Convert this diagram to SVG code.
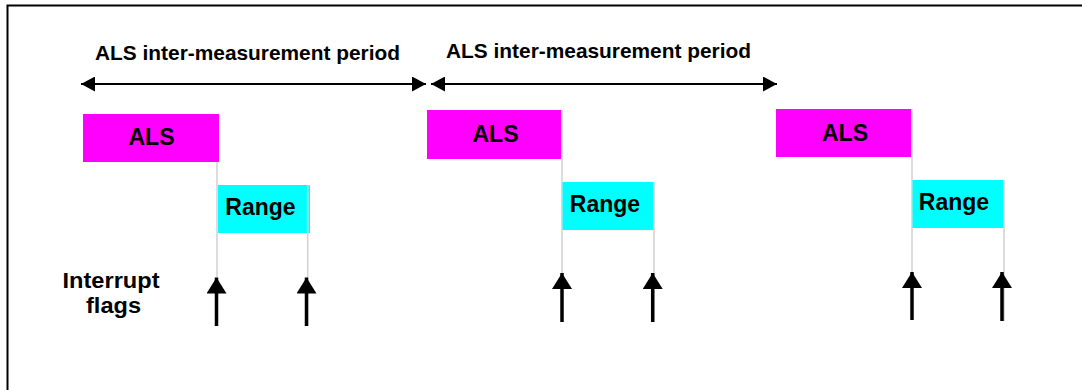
<svg xmlns="http://www.w3.org/2000/svg" width="1082" height="390" viewBox="0 0 1082 390">
<style>
text{font-family:"Liberation Sans",Arial,sans-serif;font-weight:bold;fill:#000}
.als{fill:#ff00ff}
.rng{fill:#00ffff}
.lbl{font-size:23px;text-anchor:middle}
.per{font-size:20.5px}
.grid{stroke:#d4d4d4;stroke-width:1.6;fill:none}
.dbl{stroke:#000;stroke-width:2;fill:none;marker-start:url(#ah);marker-end:url(#ah)}
.up{stroke:#000;stroke-width:3.5;fill:none;marker-end:url(#uh)}
</style>
<defs>
<marker id="ah" viewBox="0 0 14 15" refX="14" refY="7.5" markerWidth="14" markerHeight="15" markerUnits="userSpaceOnUse" orient="auto-start-reverse"><path d="M0,0 L14,7.5 L0,15 z" fill="#000"/></marker>
<marker id="uh" viewBox="0 0 16 20" refX="16" refY="10" markerWidth="16" markerHeight="20" markerUnits="userSpaceOnUse" orient="auto"><path d="M0,0 L16,10 L0,20 z" fill="#000"/></marker>
</defs>
<rect width="1082" height="390" fill="#fff"/>
<polyline points="7.5,392 7.5,5.5 1084,5.5" fill="none" stroke="#000" stroke-width="2"/>

<g id="period-labels">
<text class="per" x="95" y="60" textLength="305" lengthAdjust="spacingAndGlyphs">ALS inter-measurement period</text>
<text class="per" x="446" y="58" textLength="305" lengthAdjust="spacingAndGlyphs">ALS inter-measurement period</text>
</g>

<g id="interrupt-label">
<text x="111" y="288" font-size="21.5" text-anchor="middle" textLength="97" lengthAdjust="spacingAndGlyphs">Interrupt</text>
<text x="113.5" y="313" font-size="21.5" text-anchor="middle" textLength="55" lengthAdjust="spacingAndGlyphs">flags</text>
</g>

<g id="guides">
<line class="grid" x1="217" y1="162" x2="217" y2="277"/>
<line class="grid" x1="562" y1="110" x2="562" y2="273"/>
<line class="grid" x1="654" y1="182" x2="654" y2="322"/>
<line class="grid" x1="912" y1="109" x2="912" y2="272"/>
<line class="grid" x1="1004" y1="180" x2="1004" y2="321"/>
</g>

<g id="als1"><rect class="als" x="83" y="114" width="136" height="48"/><text class="lbl" x="151.5" y="145">ALS</text></g>
<g id="range1"><rect class="rng" x="218" y="185" width="92" height="48"/><text class="lbl" x="260.5" y="215">Range</text><line class="grid" x1="307.7" y1="185" x2="307.7" y2="326"/></g>

<g id="als2"><rect class="als" x="427" y="110" width="134" height="49"/><text class="lbl" x="495.5" y="141.5">ALS</text></g>
<g id="range2"><rect class="rng" x="562.5" y="182" width="91" height="48"/><text class="lbl" x="605" y="211.5">Range</text></g>

<g id="als3"><rect class="als" x="776" y="109" width="135" height="48"/><text class="lbl" x="845" y="140.5">ALS</text></g>
<g id="range3"><rect class="rng" x="912.5" y="180" width="91" height="48"/><text class="lbl" x="954" y="210">Range</text></g>

<g id="connectors">
<line class="dbl" x1="81" y1="84" x2="426" y2="84"/>
<line class="dbl" x1="431" y1="84" x2="777" y2="84"/>
<line class="up" x1="216.5" y1="326" x2="216.5" y2="277.5"/>
<line class="up" x1="306.5" y1="326" x2="306.5" y2="277.5"/>
<line class="up" x1="562" y1="322" x2="562" y2="273"/>
<line class="up" x1="652.7" y1="322" x2="652.7" y2="273"/>
<line class="up" x1="912" y1="320" x2="912" y2="272"/>
<line class="up" x1="1002" y1="321" x2="1002" y2="272"/>
</g>
</svg>
